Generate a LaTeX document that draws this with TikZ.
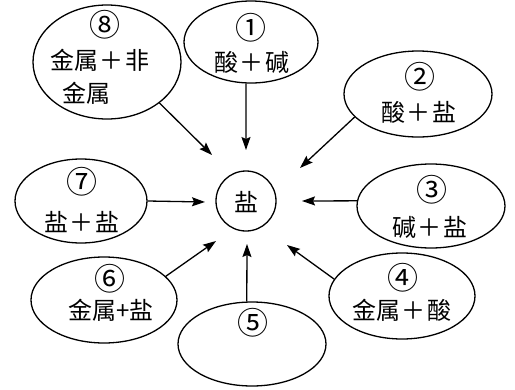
\documentclass[tikz,border=0pt]{standalone}
\usepackage{fontspec}
\newfontfamily\cjk{Noto Sans CJK SC}
\usetikzlibrary{shapes.geometric,arrows.meta}
\tikzset{
  oval/.style={ellipse, draw, line width=1.3pt, inner sep=0pt},
  lbl/.style={font=\cjk\fontsize{24}{24}\selectfont, inner sep=0pt},
  num/.style={font=\cjk\fontsize{31}{31}\selectfont, inner sep=0pt},
  arr/.style={-{Stealth[length=13pt,width=9pt,inset=2pt]}, line width=1.3pt},
}
\newcommand{\pl}{\hspace{2pt}＋\hspace{2pt}}
\begin{document}
\begin{tikzpicture}[x=1pt,y=-1pt]
\useasboundingbox (0,0) rectangle (515,389);
% ellipses
\node[oval, minimum width=148pt, minimum height=114pt] (e8) at (107,62) {};
\node[oval, minimum width=134pt, minimum height=82pt] (e1) at (251,42) {};
\node[oval, minimum width=148pt, minimum height=86pt] (e2) at (418,94) {};
\node[oval, minimum width=132pt, minimum height=84pt] (e7) at (81,201) {};
\node[oval, minimum width=148pt, minimum height=84pt] (e3) at (431,206) {};
\node[oval, minimum width=146pt, minimum height=86pt] (e6) at (104,300) {};
\node[oval, minimum width=148pt, minimum height=84pt] (e5) at (252,344) {};
\node[oval, minimum width=146pt, minimum height=86pt] (e4) at (402,296) {};
\node[circle, draw, line width=1.3pt, minimum size=60pt, inner sep=0pt] (c) at (246,201) {};
% texts
\node[lbl] (s) at (246,202) {盐};
\node[num] (n8) at (105,25) {⑧};
\node[lbl] (t8a) at (100,60) {金属\pl 非};
\node[lbl] (t8b) at (87,93) {金属};
\node[num] (n1) at (251,28) {①};
\node[lbl] (t1) at (252,62) {酸\pl 碱};
\node[num] (n2) at (420,77) {②};
\node[lbl] (t2) at (419,112) {酸\pl 盐};
\node[num] (n7) at (82,182) {⑦};
\node[lbl] (t7) at (82,222) {盐\pl 盐};
\node[num] (n3) at (432,190) {③};
\node[lbl] (t3) at (430,227) {碱\pl 盐};
\node[num] (n6) at (110,279) {⑥};
\node[lbl] (t6) at (111,310) {金属+盐};
\node[num] (n5) at (253,323) {⑤};
\node[num] (n4) at (403,278) {④};
\node[lbl] (t4) at (402,310) {金属\pl 酸};
% arrow targets
\coordinate (a8) at (212,155);
\coordinate (a1) at (246,150);
\coordinate (a2) at (300,168);
\coordinate (a7) at (205,202);
\coordinate (a3) at (302,201);
\coordinate (a6) at (216,241);
\coordinate (a5) at (247,244);
\coordinate (a4) at (287,245);
% arrows
\draw[arr] (e8.-38) -- (a8);
\draw[arr] (e1.263) -- (a1);
\draw[arr] (e2.200) -- (a2);
\draw[arr] (e7.0) -- (a7);
\draw[arr] (e3.176) -- (a3);
\draw[arr] (e6.21) -- (a6);
\draw[arr] (e5.97) -- (a5);
\draw[arr] (e4.166) -- (a4);
\end{tikzpicture}
\end{document}
